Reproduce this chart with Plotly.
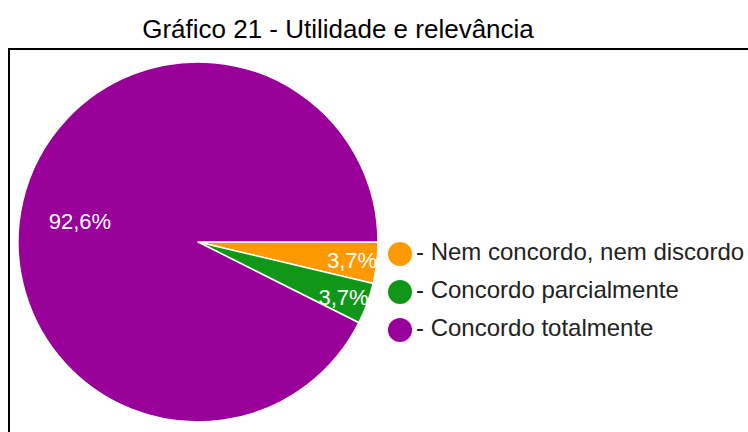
import plotly.graph_objects as go

title_text = "Gráfico 21 - Utilidade e relevância"
categories = ["- Nem concordo, nem discordo", "- Concordo parcialmente", "- Concordo totalmente"]
values = [3.7, 3.7, 92.6]
colors = ["#FF9900", "#109618", "#990099"]

W, H = 748, 432
cx, cy, r = 198, 242, 180

nb = "\u00a0"
templates = ["%{percent:.1%}" + nb * 2, "%{percent:.1%}" + nb * 2, "%{percent:.1%}" + nb * 10]

fig = go.Figure()
fig.add_trace(go.Pie(
    labels=categories, values=values, sort=False, direction="clockwise", rotation=90,
    marker=dict(colors=colors, line=dict(color="white", width=1.5)),
    texttemplate=templates, textposition="inside",
    insidetextorientation="horizontal",
    textfont=dict(color="white", size=22, family="Arial, Liberation Sans"),
    showlegend=False, hoverinfo="skip",
    domain=dict(x=[(cx - r) / W, (cx + r) / W], y=[1 - (cy + r) / H, 1 - (cy - r) / H]),
))

# legend drawn as scatter markers
fig.add_trace(go.Scatter(
    x=[0] * len(categories), y=list(range(len(categories))),
    mode="markers+text", text=categories, textposition="middle right",
    marker=dict(color=colors, size=24),
    textfont=dict(color="#222222", size=24, family="Arial, Liberation Sans"),
    showlegend=False, hoverinfo="skip", cliponaxis=False,
))

lx, ly0, dy = 400, 254, 38
fig.update_layout(
    width=W, height=H, margin=dict(l=0, r=0, t=0, b=0),
    paper_bgcolor="white", plot_bgcolor="rgba(0,0,0,0)",
    separators=",.",
    uniformtext=dict(minsize=22, mode="show"),
    title=dict(text=title_text, x=338 / W, xanchor="center", y=1 - 29 / H, yanchor="middle",
               font=dict(size=26, color="#000000", family="Arial, Liberation Sans")),
    xaxis=dict(range=[-lx, W - lx], visible=False, fixedrange=True),
    yaxis=dict(range=[(H - ly0) / dy, -ly0 / dy], visible=False, fixedrange=True),
    shapes=[dict(type="rect", xref="paper", yref="paper", x0=9 / W, x1=1.05, y0=-0.05, y1=1 - 49 / H,
                 line=dict(color="black", width=2), fillcolor="rgba(0,0,0,0)", layer="below")],
)
fig.write_html("out.html", config={"displayModeBar": False},
               post_script="document.body.style.margin='0';")
